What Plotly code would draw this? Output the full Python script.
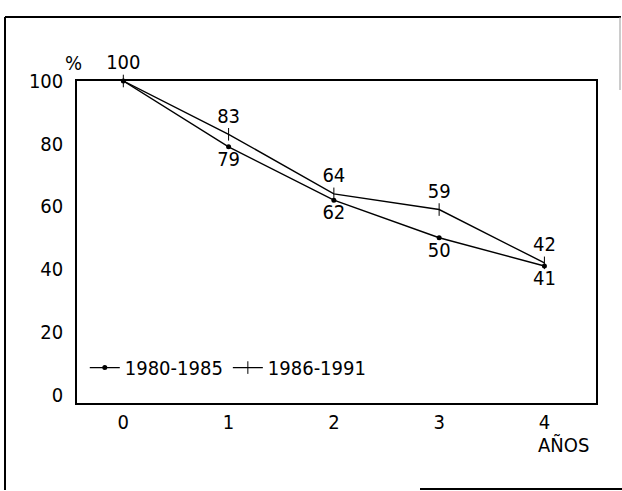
import plotly.graph_objects as go

years = [0, 1, 2, 3, 4]
serie_1980_1985 = [100, 79, 62, 50, 41]
serie_1986_1991 = [100, 83, 64, 59, 42]
y_ticks = [0, 20, 40, 60, 80, 100]
x_ticks = [0, 1, 2, 3, 4]

FONT = "DejaVu Sans Condensed, DejaVu Sans, sans-serif"
FS = 20

text1 = [""] + [str(v) for v in serie_1980_1985[1:]]
text2 = [str(v) for v in serie_1986_1991]

fig = go.Figure()
fig.add_trace(go.Scatter(
    x=years, y=serie_1980_1985, name="1980-1985",
    mode="lines+markers+text", text=text1, textposition="bottom center",
    line=dict(color="black", width=1.4),
    marker=dict(symbol="circle", size=5, color="black"),
    textfont=dict(size=FS, color="black", family=FONT),
    cliponaxis=False,
))
fig.add_trace(go.Scatter(
    x=years, y=serie_1986_1991, name="1986-1991",
    mode="lines+markers+text", text=text2, textposition="top center",
    line=dict(color="black", width=1.4),
    marker=dict(symbol="line-ns", size=9, color="black",
                line=dict(color="black", width=1)),
    textfont=dict(size=FS, color="black", family=FONT),
    cliponaxis=False,
))

W, H = 622, 491
ml, mr, mt, mb = 77, 26, 81, 88
pw, ph = W - ml - mr, H - mt - mb

def px(x):
    return (x - ml) / pw

def py(y):
    return (H - mb - y) / ph

shapes = [
    dict(type="line", xref="paper", yref="paper", x0=px(5), x1=px(5), y0=py(17), y1=py(490),
         line=dict(color="black", width=2)),
    dict(type="line", xref="paper", yref="paper", x0=px(5), x1=px(621), y0=py(17), y1=py(17),
         line=dict(color="black", width=2)),
    dict(type="line", xref="paper", yref="paper", x0=px(620), x1=px(620), y0=py(17), y1=py(90),
         line=dict(color="#999999", width=1)),
    dict(type="line", xref="paper", yref="paper", x0=px(420), x1=px(622), y0=py(489), y1=py(489),
         line=dict(color="black", width=2)),
]

fig.update_layout(
    width=W, height=H,
    margin=dict(l=ml, r=mr, t=mt, b=mb),
    paper_bgcolor="white", plot_bgcolor="white",
    font=dict(family=FONT, size=FS, color="black"),
    showlegend=True,
    legend=dict(orientation="h", x=0.015, y=0.11, xanchor="left", yanchor="middle",
                bgcolor="rgba(0,0,0,0)", font=dict(size=FS, family=FONT),
                itemwidth=30, tracegroupgap=0),
    xaxis=dict(range=[-0.44, 4.49], tickvals=x_ticks, showgrid=False, zeroline=False,
               showline=True, mirror=True, linecolor="black", linewidth=1.5,
               ticks="", tickfont=dict(size=FS, family=FONT)),
    yaxis=dict(range=[-2.7, 100], tickvals=y_ticks, showgrid=False, zeroline=False,
               showline=True, mirror=True, linecolor="black", linewidth=1.5,
               ticks="", ticklabelstandoff=8, tickfont=dict(size=FS, family=FONT)),
    shapes=shapes,
    annotations=[
        dict(text="%", xref="paper", yref="paper", x=px(73), y=py(63),
             xanchor="center", yanchor="middle", showarrow=False,
             font=dict(size=FS, family=FONT)),
        dict(text="AÑOS", xref="paper", yref="paper", x=px(563), y=py(445),
             xanchor="center", yanchor="middle", showarrow=False,
             font=dict(size=FS, family=FONT)),
    ],
)

fig.write_html("out.html", config={"displayModeBar": False},
               post_script="document.body.style.margin='0';")
